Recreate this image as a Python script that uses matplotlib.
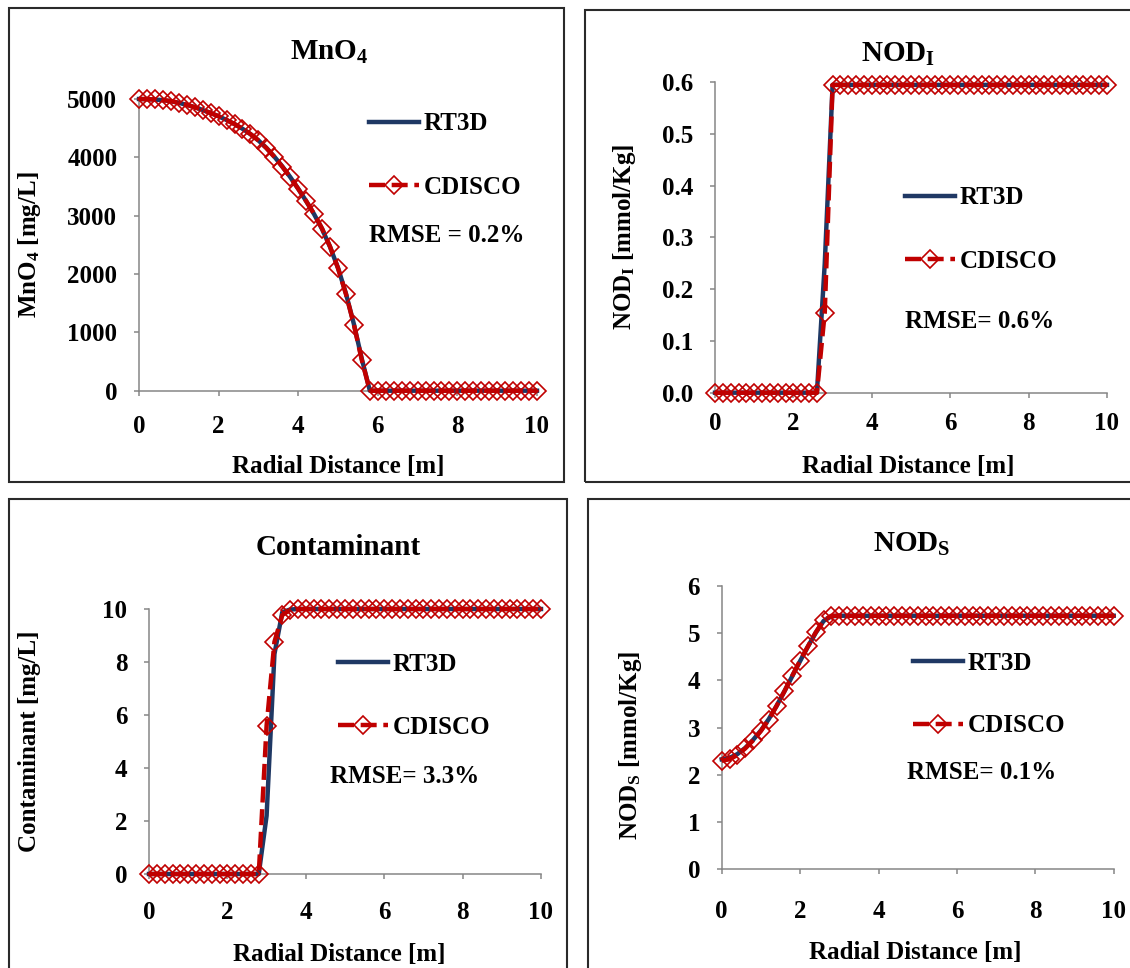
import matplotlib
matplotlib.use('Agg')
import matplotlib.pyplot as plt
from matplotlib.patches import Rectangle
from matplotlib.ticker import FormatStrFormatter

plt.rcParams['font.family'] = 'Liberation Serif'
plt.rcParams['font.weight'] = 'bold'
plt.rcParams['mathtext.fontset'] = 'custom'
plt.rcParams['mathtext.rm'] = 'Liberation Serif:bold'
plt.rcParams['mathtext.it'] = 'Liberation Serif:bold'
plt.rcParams['mathtext.bf'] = 'Liberation Serif:bold'

W, H = 1130, 968
BLUE = '#1F3864'
RED = '#C00000'
GRAY = '#868686'

# radial distance [m]
x = [0.0, 0.2, 0.4, 0.6, 0.8, 1.0, 1.2, 1.4, 1.6, 1.8,
     2.0, 2.2, 2.4, 2.6, 2.8, 3.0, 3.2, 3.4, 3.6, 3.8,
     4.0, 4.2, 4.4, 4.6, 4.8, 5.0, 5.2, 5.4, 5.6, 5.8,
     6.0, 6.2, 6.4, 6.6, 6.8, 7.0, 7.2, 7.4, 7.6, 7.8,
     8.0, 8.2, 8.4, 8.6, 8.8, 9.0, 9.2, 9.4, 9.6, 9.8, 10.0]

# MnO4 [mg/L]
mno4_rt3d = [5000, 4997, 4990, 4980, 4962, 4934, 4900, 4860, 4812, 4760,
             4703, 4640, 4570, 4490, 4398, 4290, 4162, 4012, 3845, 3662,
             3462, 3250, 3025, 2770, 2465, 2105, 1665, 1140, 540, 0,
             0, 0, 0, 0, 0, 0, 0, 0, 0, 0,
             0, 0, 0, 0, 0, 0, 0, 0, 0, 0, 0]
mno4_cdisco = [5000, 4998, 4992, 4982, 4965, 4935, 4900, 4860, 4810, 4760,
               4705, 4640, 4570, 4490, 4400, 4290, 4160, 4010, 3840, 3660,
               3460, 3250, 3030, 2780, 2470, 2100, 1655, 1130, 520, 0,
               0, 0, 0, 0, 0, 0, 0, 0, 0, 0,
               0, 0, 0, 0, 0, 0, 0, 0, 0, 0, 0]

# NOD_I [mmol/Kg]
nodi_rt3d = [0, 0, 0, 0, 0, 0, 0, 0, 0, 0,
             0, 0, 0, 0, 0.25, 0.595, 0.595, 0.595, 0.595, 0.595,
             0.595, 0.595, 0.595, 0.595, 0.595, 0.595, 0.595, 0.595, 0.595, 0.595,
             0.595, 0.595, 0.595, 0.595, 0.595, 0.595, 0.595, 0.595, 0.595, 0.595,
             0.595, 0.595, 0.595, 0.595, 0.595, 0.595, 0.595, 0.595, 0.595, 0.595, 0.595]
nodi_cdisco = [0, 0, 0, 0, 0, 0, 0, 0, 0, 0,
               0, 0, 0, 0, 0.155, 0.595, 0.595, 0.595, 0.595, 0.595,
               0.595, 0.595, 0.595, 0.595, 0.595, 0.595, 0.595, 0.595, 0.595, 0.595,
               0.595, 0.595, 0.595, 0.595, 0.595, 0.595, 0.595, 0.595, 0.595, 0.595,
               0.595, 0.595, 0.595, 0.595, 0.595, 0.595, 0.595, 0.595, 0.595, 0.595, 0.595]

# Contaminant [mg/L]
cont_rt3d = [0, 0, 0, 0, 0, 0, 0, 0, 0, 0,
             0, 0, 0, 0, 0, 2.2, 8.3, 9.88, 9.98, 10,
             10, 10, 10, 10, 10, 10, 10, 10, 10, 10,
             10, 10, 10, 10, 10, 10, 10, 10, 10, 10,
             10, 10, 10, 10, 10, 10, 10, 10, 10, 10, 10]
cont_cdisco = [0, 0, 0, 0, 0, 0, 0, 0, 0, 0,
               0, 0, 0, 0, 0, 5.6, 8.76, 9.77, 9.97, 10,
               10, 10, 10, 10, 10, 10, 10, 10, 10, 10,
               10, 10, 10, 10, 10, 10, 10, 10, 10, 10,
               10, 10, 10, 10, 10, 10, 10, 10, 10, 10, 10]

# NOD_S [mmol/Kg]
nods_rt3d = [2.33, 2.36, 2.44, 2.57, 2.74, 2.94, 3.18, 3.46, 3.77, 4.09,
             4.41, 4.72, 5.01, 5.26, 5.36, 5.37, 5.37, 5.37, 5.37, 5.37,
             5.37, 5.37, 5.37, 5.37, 5.37, 5.37, 5.37, 5.37, 5.37, 5.37,
             5.37, 5.37, 5.37, 5.37, 5.37, 5.37, 5.37, 5.37, 5.37, 5.37,
             5.37, 5.37, 5.37, 5.37, 5.37, 5.37, 5.37, 5.37, 5.37, 5.37, 5.37]
nods_cdisco = [2.30, 2.33, 2.42, 2.56, 2.73, 2.93, 3.17, 3.46, 3.77, 4.10,
               4.42, 4.72, 5.02, 5.27, 5.37, 5.37, 5.37, 5.37, 5.37, 5.37,
               5.37, 5.37, 5.37, 5.37, 5.37, 5.37, 5.37, 5.37, 5.37, 5.37,
               5.37, 5.37, 5.37, 5.37, 5.37, 5.37, 5.37, 5.37, 5.37, 5.37,
               5.37, 5.37, 5.37, 5.37, 5.37, 5.37, 5.37, 5.37, 5.37, 5.37, 5.37]

xticks = [0, 2, 4, 6, 8, 10]


def fx(px):
    return px / W


def fy(py):
    return 1 - py / H


fig = plt.figure(figsize=(W / 100, H / 100), dpi=100)


def panel(box, area, ylim, yticks, yfmt, rt3d, cdisco, title, title_xy,
          ylabel, ylabel_xy, xlabel_xy, leg_xy, rmse, rmse_xy, xpad):
    # outer frame of each chart
    x0, y0, x1, y1 = box
    fig.add_artist(Rectangle((fx(x0), fy(y1)), (x1 - x0) / W, (y1 - y0) / H,
                             transform=fig.transFigure, fill=False,
                             lw=1.5, ec='#2a2a2a'))
    l, t, r, b = area
    ax = fig.add_axes([fx(l), fy(b), (r - l) / W, (b - t) / H])
    ax.plot(x, rt3d, color=BLUE, lw=3.2, label='RT3D', clip_on=False, zorder=3)
    ax.plot(x, cdisco, color=RED, lw=3.2, dashes=(3.6, 1.5), marker='D', ms=9.5,
            mfc='none', mec=RED, mew=1.2, label='CDISCO', clip_on=False,
            zorder=4)
    ax.set_xlim(0, 10)
    ax.set_ylim(*ylim)
    ax.set_xticks(xticks)
    ax.set_yticks(yticks)
    ax.yaxis.set_major_formatter(FormatStrFormatter(yfmt))
    for s in ['top', 'right']:
        ax.spines[s].set_visible(False)
    for s in ['left', 'bottom']:
        ax.spines[s].set_color(GRAY)
        ax.spines[s].set_linewidth(1.1)
    ax.tick_params(axis='both', direction='out', length=3.6, width=1.1,
                   color=GRAY, labelsize=18)
    ax.tick_params(axis='y', pad=12)
    ax.tick_params(axis='x', pad=xpad)
    ax.patch.set_alpha(0)

    fig.text(fx(title_xy[0]), fy(title_xy[1]), title, fontsize=21,
             ha='center', va='baseline')
    fig.text(fx(ylabel_xy[0]), fy(ylabel_xy[1]), ylabel, fontsize=18,
             rotation=90, ha='center', va='center')
    fig.text(fx(xlabel_xy[0]), fy(xlabel_xy[1]), 'Radial Distance [m]',
             fontsize=18, ha='center', va='baseline')
    ax.legend(loc='center left', bbox_to_anchor=(fx(leg_xy[0]), fy(leg_xy[1])),
              bbox_transform=fig.transFigure, frameon=False, fontsize=18,
              handlelength=2.0, handletextpad=0.2, labelspacing=1.6,
              borderpad=0, borderaxespad=0, numpoints=1)
    fig.text(fx(rmse_xy[0]), fy(rmse_xy[1]), rmse, fontsize=18,
             ha='left', va='baseline')
    return ax


panel((9, 8, 564, 482), (139, 99, 537, 390.7), (0, 5000),
      [0, 1000, 2000, 3000, 4000, 5000], '%d', mno4_rt3d, mno4_cdisco,
      'MnO$_4$', (329, 60), 'MnO$_4$ [mg/L]', (30, 245), (338, 473),
      (369, 155.5), 'RMSE = 0.2%', (369, 242), 14)

panel((585, 10, 1135, 482), (715, 82.3, 1107, 392.7), (0, 0.6),
      [0, 0.1, 0.2, 0.3, 0.4, 0.5, 0.6], '%.1f', nodi_rt3d, nodi_cdisco,
      r'NOD$_\mathrm{I}$', (898, 62), r'NOD$_\mathrm{I}$ [mmol/Kg]', (625, 237),
      (908, 473), (905, 229.5), 'RMSE= 0.6%', (905, 328), 10)

panel((9, 499, 567, 975), (149, 609, 541, 874), (0, 10),
      [0, 2, 4, 6, 8, 10], '%d', cont_rt3d, cont_cdisco,
      'Contaminant', (338, 555), 'Contaminant [mg/L]', (30, 741), (339, 961),
      (338, 696), 'RMSE= 3.3%', (330, 783), 15.5)

panel((588, 499, 1135, 975), (721.7, 586, 1113.7, 869.3), (0, 6),
      [0, 1, 2, 3, 4, 5, 6], '%d', nods_rt3d, nods_cdisco,
      r'NOD$_\mathrm{S}$', (912, 552), r'NOD$_\mathrm{S}$ [mmol/Kg]', (630, 745),
      (915, 959), (913, 694.5), 'RMSE= 0.1%', (907, 779), 18.4)

fig.savefig('out.png', dpi=100, facecolor='white')
